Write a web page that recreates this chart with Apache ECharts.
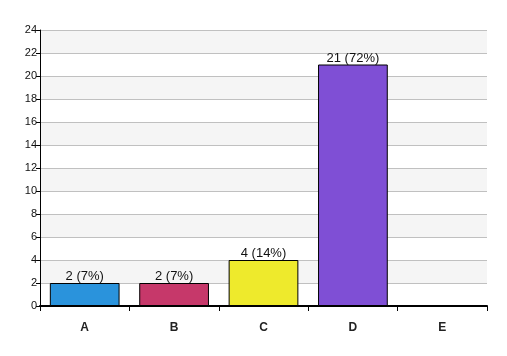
<!DOCTYPE html>
<html><head><meta charset="utf-8">
<script src="https://cdn.jsdelivr.net/npm/echarts@6/dist/echarts.min.js"></script>
<style>html,body{margin:0;padding:0;background:#fff}#c{width:507px;height:356px}</style>
</head><body><div id="c"></div>
<script>
const categories = ['A','B','C','D','E'];
const values = [2, 2, 4, 21, 0];
const labels = ['2 (7%)','2 (7%)','4 (14%)','21 (72%)',''];
const colors = ['#2a93dc','#c6386a','#eeea2c','#7f4fd5','#888888'];
const yTicks = [0,2,4,6,8,10,12,14,16,18,20,22,24];

const chart = echarts.init(document.getElementById('c'));
chart.setOption({
  animation:false,
  backgroundColor:'#fff',
  grid:{left:40,right:20,top:30,bottom:50},
  xAxis:{type:'category',data:categories,
    axisLine:{lineStyle:{color:'#000',width:2}},
    axisTick:{show:true,length:5,lineStyle:{color:'#000'}},
    axisLabel:{fontFamily:'Liberation Sans, Arial',fontSize:12,fontWeight:'bold',color:'#222',margin:16}
  },
  yAxis:{type:'value',min:yTicks[0],max:yTicks[yTicks.length-1],interval:2,
    axisLine:{show:true,lineStyle:{color:'#000',width:1}},
    axisTick:{show:true,length:4,lineStyle:{color:'#000'}},
    axisLabel:{fontFamily:'Liberation Sans, Arial',fontSize:11,color:'#111',margin:3},
    splitLine:{lineStyle:{color:'#c0c0c0'}},
    splitArea:{show:true,areaStyle:{color:['#ffffff','#f5f5f5']}}
  },
  series:[{type:'bar',barCategoryGap:'22%',
    data:values.map((v,i)=>({value:v,itemStyle:{color:colors[i]},label:{formatter:labels[i]}})),
    itemStyle:{borderColor:'#000',borderWidth:1},
    label:{show:true,position:'top',distance:0,fontFamily:'Liberation Sans, Arial',fontSize:13,color:'#111'}
  }]
});
</script></body></html>
